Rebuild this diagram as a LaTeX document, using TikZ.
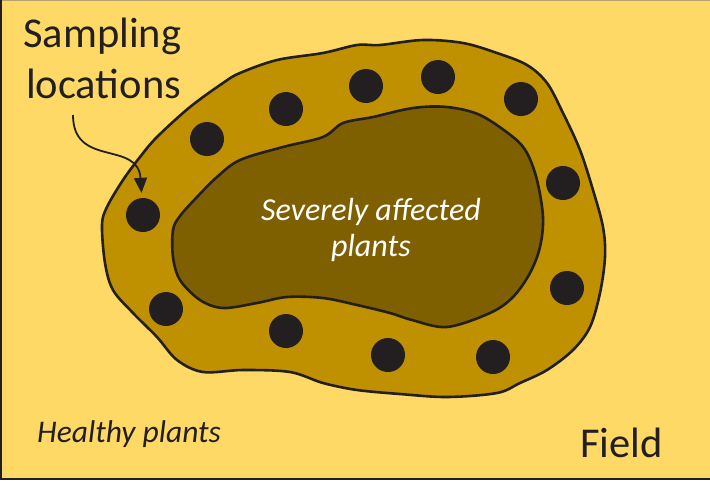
\documentclass[tikz,border=0pt]{standalone}
\usepackage{fontspec}
\setmainfont{Carlito}
\usepackage{tikz}
\usetikzlibrary{arrows.meta}

\definecolor{fieldbg}{HTML}{FFD966}
\definecolor{ringcol}{HTML}{BF9000}
\definecolor{corecol}{HTML}{7F6000}
\definecolor{inkcol}{HTML}{231F20}
\definecolor{edgecol}{HTML}{B8A070}

\begin{document}
\begin{tikzpicture}[x=1pt, y=-1pt,
  blob/.style={draw=inkcol, line width=2.6pt, line join=round},
  spot/.style={circle, fill=inkcol, minimum size=34pt, inner sep=0pt},
  bigtext/.style={text=inkcol, font=\fontsize{42.5}{51}\selectfont, inner sep=0pt},
  ar/.style={-{Triangle[length=15pt,width=13pt]}, draw=inkcol, line width=1.8pt}]

  % field
  \fill[fieldbg] (0,0) rectangle (710,480);
  \useasboundingbox (0,0) rectangle (710,480);
  \draw[edgecol, line width=1.2pt] (0,0.6) -- (710,0.6);
  \draw[inkcol, line width=2.4pt] (1.2,0) -- (1.2,480);
  \draw[inkcol, line width=2.4pt] (0,478.8) -- (710,478.8);

  % affected zone and core
  \filldraw[blob, fill=ringcol] plot[smooth cycle, tension=0.55] coordinates {
    (102,225) (107,207) (123,180) (140,157) (157,137) (190,107) (223,83)
    (240,73) (277,60) (323,53) (357,45) (380,45) (423,40) (463,43) (497,53)
    (527,65) (547,83) (563,113) (580,150) (593,190) (603,227) (605,257)
    (600,293) (590,327) (573,350) (547,370) (520,383) (497,393) (447,397)
    (400,394) (357,390) (323,383) (290,372) (243,370) (203,372) (177,360)
    (157,337) (133,313) (113,290) (105,263)};
  \filldraw[blob, fill=corecol] plot[smooth cycle, tension=0.55] coordinates {
    (173,230) (180,216) (197,197) (217,177) (240,160) (283,147) (323,137)
    (343,123) (373,117) (413,108) (447,107) (480,115) (513,137) (527,153)
    (537,180) (543,217) (540,247) (530,273) (513,297) (490,313) (447,327)
    (412,320) (390,313) (357,305) (323,298) (287,297) (257,303) (223,308)
    (200,300) (180,280) (173,257)};

  % sampling spots
  \node[spot] (d1) at (143,215) {};
  \node[spot] (d2) at (207,139) {};
  \node[spot] (d3) at (286,109) {};
  \node[spot] (d4) at (366,86) {};
  \node[spot] (d5) at (438,77) {};
  \node[spot] (d6) at (521,99) {};
  \node[spot] (d7) at (563,183) {};
  \node[spot] (d8) at (567,288) {};
  \node[spot] (d9) at (493,357) {};
  \node[spot] (d10) at (388,355) {};
  \node[spot] (d11) at (286,331) {};
  \node[spot] (d12) at (166,309) {};

  % labels
  \node[bigtext, anchor=base west] (samp) at (23,47) {Sampling};
  \node[bigtext, anchor=base west] (loc) at (26,98) {locations};
  \node[text=white, font=\fontsize{32}{36}\selectfont\itshape, align=center,
        inner sep=0pt, anchor=base] (core) at (371,256) {Severely affected\\plants};
  \node[text=inkcol, font=\fontsize{31.5}{36}\selectfont\itshape, inner sep=0pt,
        anchor=base west] (healthy) at (37,442) {Healthy plants};
  \node[bigtext, anchor=base west] (field) at (580,457) {Field};

  \coordinate (tail) at (73,115);
  \draw[ar, shorten >=5pt] (tail) .. controls (73,168) and (138,140) .. (d1);
\end{tikzpicture}
\end{document}
